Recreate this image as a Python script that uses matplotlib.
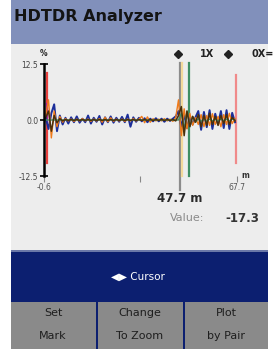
import matplotlib
matplotlib.use("Agg")
import matplotlib.pyplot as plt
from matplotlib.patches import Rectangle

# ---------------- data ----------------
distance_m = list(range(0, 68))
blue = [0.5, -2.0, 1.5, 3.5, -2.5, 1.0, -1.0, 0.5, -0.8, 0.6,
        -0.5, 0.8, -0.6, 0.3, -0.5, 1.0, -0.8, 0.5, -0.4, 0.9,
        -1.0, 0.6, -0.5, 0.8, -0.6, 0.5, -0.4, 0.7, -0.5, 1.2,
        -1.5, 0.6, -0.4, 0.5, -0.3, 0.4, -0.5, 0.3, -0.3, 0.4,
        -0.3, 0.3, -0.4, 0.3, -0.2, 0.3, 0.8, 2.0, -1.5, 1.2,
        -1.8, 0.8, -1.0, 0.6, 2.0, -2.2, 1.8, -1.6, 2.2, -2.0,
        1.4, -1.0, 2.0, -1.8, 2.2, -2.0, 1.6, -0.5]
orange = [1.0, 4.5, -4.0, 2.0, -1.5, 0.8, -0.5, 0.3, -0.2, 0.2,
          -0.3, 0.2, -0.2, 0.3, -0.2, 0.2, -0.3, 0.2, -0.2, 0.3,
          -0.5, 0.6, -0.4, 0.5, -0.3, 0.2, -0.2, 0.2, -0.3, 0.2,
          -0.2, 0.3, -0.2, 0.2, 0.8, -0.6, 0.7, -0.5, 0.3, -0.2,
          0.2, -0.2, 0.3, -0.2, 0.2, -0.3, 0.5, 4.5, -3.5, 2.5,
          -2.0, 1.5, -1.2, 0.5, -1.0, 1.2, -1.5, 1.0, -1.2, 1.4,
          -1.0, 0.8, -1.5, 1.2, -1.0, 1.5, -0.8, 0.3]
brown = [0.5, 2.0, -2.5, 1.0, -0.6, 0.3, -0.2, 0.1, -0.1, 0.1,
         -0.1, 0.1, -0.1, 0.1, -0.1, 0.1, -0.1, 0.1, -0.1, 0.1,
         -0.1, 0.1, -0.1, 0.1, -0.1, 0.1, -0.1, 0.1, -0.1, 0.1,
         -0.1, 0.1, -0.1, 0.1, -0.1, 0.1, -0.1, 0.1, -0.1, 0.1,
         -0.1, 0.1, -0.1, 0.1, -0.1, 0.1, -0.2, 1.0, 3.0, -3.5,
         2.0, -1.5, 0.8, -0.5, 1.2, -1.5, 1.0, -1.2, 1.5, -1.0,
         0.8, -1.2, 1.0, -0.8, 1.2, -1.0, 0.6, -0.2]
green = [0.0] * 48 + [1.5, -2.0, 2.0, -1.5, 0.8, -0.5, 0.3, -0.3,
                      0.2, -0.2, 0.2, -0.2, 0.2, -0.2, 0.2, -0.2,
                      0.2, -0.2, 0.2, 0.0]

vline_pos = [0.3, 0.5, 47.7, 48.3, 50.7, 67.4]
vline_ymin = [-9.5, -0.5, -15.6, -12.5, -12.5, -9.5]
vline_ymax = [10.5, 3.5, 12.7, 12.7, 12.7, 10.0]
vline_colors = ["#e8413e", "#b0209a", "#8c8c8c", "#f3d99a", "#3f8f63", "#f08a8a"]

y_ticks = [12.5, 0.0, -12.5]
y_tick_labels = ["12.5", "0.0", "-12.5"]
x_min, x_max = -0.6, 67.7
cursor_m = 47.7
cursor_value = -17.3
buttons = ["Set\nMark", "Change\nTo Zoom", "Plot\nby Pair"]

# ---------------- figure ----------------
W, H = 273, 349
fig = plt.figure(figsize=(W / 100, H / 100), dpi=100)
fig.patch.set_facecolor("white")

ui = fig.add_axes([0, 0, 1, 1])
ui.set_xlim(0, W)
ui.set_ylim(H, 0)
ui.axis("off")

L, R = 11, 268
ui.add_patch(Rectangle((L, 0), R - L, 44, color="#8190bb", lw=0))
ui.add_patch(Rectangle((L, 44), R - L, 206, color="#ededed", lw=0))
ui.add_patch(Rectangle((L, 250), R - L, 52, color="#0c1f70", lw=0))
ui.add_patch(Rectangle((L, 250), R - L, 1.5, color="#6b78a8", lw=0))
ui.add_patch(Rectangle((L, 302), R - L, 47, color="#8a8a8a", lw=0))
for xd in (95.5, 182.5):
    ui.add_patch(Rectangle((xd, 300), 2.5, 49, color="#0c1f70", lw=0))

ui.text(14, 16, "HDTDR Analyzer", fontsize=11.5, fontweight="bold",
        color="#141414", va="center", ha="left")

# header row of plot
ui.text(44, 53, "%", fontsize=5.5, fontweight="bold", color="#222222",
        ha="center", va="center")
ui.plot([178], [54], marker="D", ms=4, color="#222222")
ui.text(207, 54, "1X", fontsize=7, fontweight="bold", color="#222222",
        ha="center", va="center")
ui.plot([228], [54], marker="D", ms=4, color="#222222")
ui.text(252, 54, "0X=", fontsize=7, fontweight="bold", color="#222222",
        ha="left", va="center")

ui.text(180, 198, f"{cursor_m} m", fontsize=8.5, fontweight="bold",
        color="#2a2a2a", ha="center", va="center")
ui.text(187, 218, "Value:", fontsize=8, color="#8a8a8a", ha="center",
        va="center")
ui.text(242, 218, f"{cursor_value}", fontsize=8.5, fontweight="bold",
        color="#333333", ha="center", va="center")

ui.text(138, 277, "\u25c0\u25b6 Cursor", fontsize=7.5, color="white",
        ha="center", va="center")

for cx, lab in zip((53, 139.5, 226), buttons):
    top, bot = lab.split("\n")
    ui.text(cx, 313, top, fontsize=8, color="#1e1e1e", ha="center", va="center")
    ui.text(cx, 336, bot, fontsize=8, color="#1e1e1e", ha="center", va="center")

# ---------------- plot axes ----------------
ax_l, ax_r, ax_t, ax_b = 44, 237, 64, 176
ax = fig.add_axes([ax_l / W, (H - ax_b) / H, (ax_r - ax_l) / W, (ax_b - ax_t) / H])
ax.patch.set_alpha(0)
ax.set_xlim(x_min, x_max)
ax.set_ylim(-12.5, 12.5)

for s in ("top", "right", "bottom"):
    ax.spines[s].set_visible(False)
ax.spines["left"].set_linewidth(1.8)
ax.spines["left"].set_color("black")
ax.spines["left"].set_zorder(5)

for xp, y0, y1, c in zip(vline_pos, vline_ymin, vline_ymax, vline_colors):
    ax.plot([xp, xp], [y0, y1], color=c, lw=1.6, clip_on=False, zorder=2)

ax.plot(distance_m, blue, color="#1c2f9a", lw=1.4, zorder=3)
ax.plot(distance_m, orange, color="#f07a1a", lw=1.0, zorder=3)
ax.plot(distance_m, green, color="#3f8f63", lw=1.0, zorder=3)
ax.plot(distance_m, brown, color="#4a300c", lw=1.1, zorder=4)

ax.set_yticks(y_ticks)
ax.set_yticklabels(y_tick_labels)
ax.tick_params(axis="y", direction="inout", length=6, width=1.2,
               labelsize=5.5, labelcolor="#444444", pad=1)
ax.set_xticks([x_min, 33.5, x_max])
ax.set_xticklabels(["-0.6", "", "67.7"])
ax.tick_params(axis="x", direction="out", length=4, width=0.8,
               colors="#888888", labelsize=5.5, labelcolor="#555555", pad=1)
ax.text(x_max + 1.5, -12.5, "m", fontsize=5.5, fontweight="bold",
        color="#333333", ha="left", va="center", clip_on=False)

fig.savefig("out.png", dpi=100, facecolor="white")
